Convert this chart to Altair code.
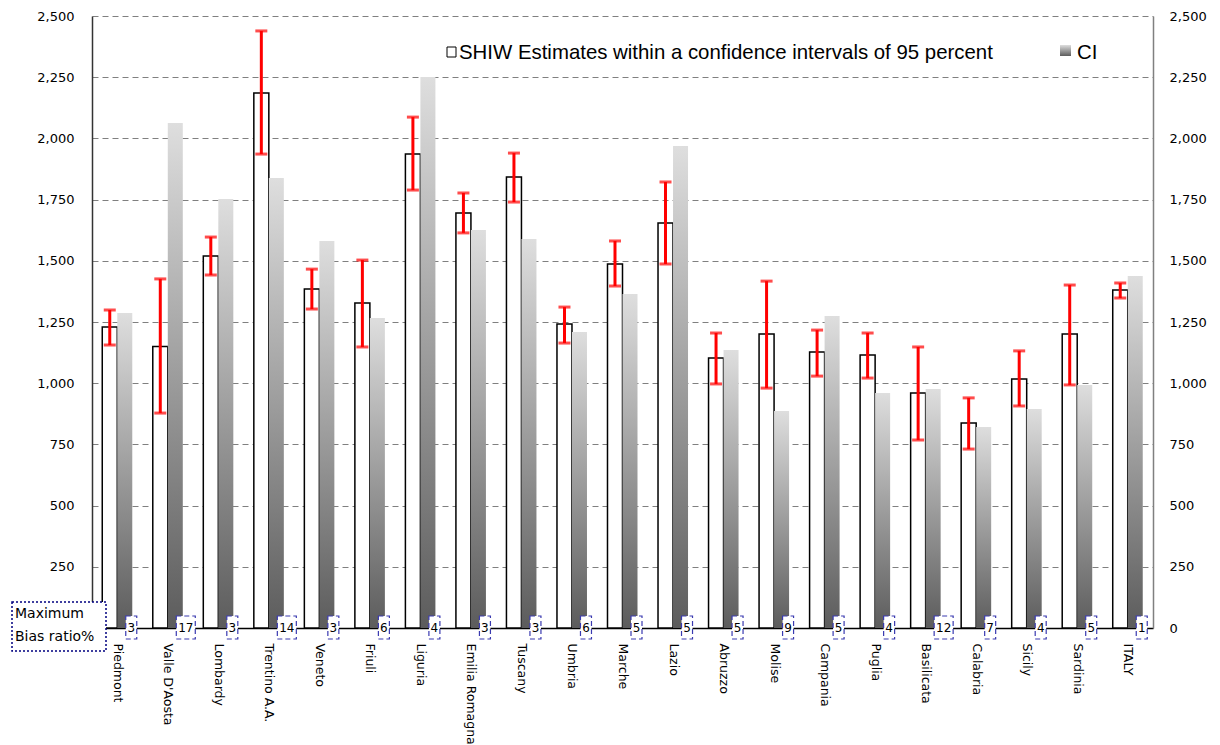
import altair as alt
import pandas as pd

regions = ["Piedmont", "Valle D'Aosta", "Lombardy", "Trentino A.A.", "Veneto", "Friuli",
           "Liguria", "Emilia Romagna", "Tuscany", "Umbria", "Marche", "Lazio", "Abruzzo",
           "Molise", "Campania", "Puglia", "Basilicata", "Calabria", "Sicily", "Sardinia", "ITALY"]
estimate = [1230, 1150, 1520, 2185, 1385, 1328, 1936, 1695, 1842, 1242, 1487, 1654, 1103,
            1201, 1127, 1115, 960, 837, 1017, 1201, 1381]
ci_value = [1287, 2063, 1752, 1838, 1581, 1266, 2251, 1626, 1589, 1209, 1364, 1969, 1136,
            886, 1274, 960, 976, 821, 895, 993, 1438]
err_high = [1299, 1426, 1597, 2439, 1466, 1503, 2087, 1777, 1940, 1311, 1581, 1822, 1205,
            1417, 1217, 1205, 1148, 940, 1132, 1401, 1409]
err_low = [1156, 878, 1442, 1936, 1303, 1148, 1789, 1614, 1740, 1164, 1397, 1487, 997,
           980, 1029, 1021, 768, 731, 907, 993, 1348]
bias = [3, 17, 3, 14, 3, 6, 4, 3, 3, 6, 5, 5, 5, 9, 5, 4, 12, 7, 4, 5, 1]
y_ticks = [0, 250, 500, 750, 1000, 1250, 1500, 1750, 2000, 2250, 2500]

FONT = "DejaVu Sans"
LEG_FONT = "Liberation Sans"

est_df = pd.DataFrame({"region": regions, "value": estimate, "series": "Estimate",
                       "hi": err_high, "lo": err_low, "bias": bias})
ci_df = pd.DataFrame({"region": regions, "value": ci_value, "series": "CI"})

xscale = alt.Scale(domain=regions, paddingInner=0.406, paddingOuter=0.203)
offscale = alt.Scale(domain=["Estimate", "CI"], paddingInner=0, paddingOuter=0)
yscale = alt.Scale(domain=[0, 2500], nice=False, zero=True)

x_axis = alt.Axis(title=None, labelAngle=90, labelAlign="left", labelBaseline="middle",
                  labelPadding=10, labelFont=FONT, labelFontSize=12.5, labelColor="black",
                  tickBand="extent", tickSize=5, tickColor="#808080", domainColor="black",
                  domainWidth=1.5, grid=False)
left_axis = alt.Axis(title=None, orient="left", values=y_ticks, format=",d", labelFont=FONT,
                     labelFontSize=13, labelColor="black", labelPadding=18, ticks=False,
                     labelExpr="datum.value == 0 ? '' : datum.label",
                     domainColor="#333333", domainWidth=1.5, grid=True, gridColor="#808080",
                     gridDash=[6, 4], gridWidth=1)
right_axis = alt.Axis(title=None, orient="right", values=y_ticks, format=",d", labelFont=FONT,
                      labelFontSize=13, labelColor="black", labelPadding=16, ticks=False,
                      domainColor="#808080", domainWidth=1.5, grid=False)

X = alt.X("region:N", sort=regions, scale=xscale, axis=x_axis)
XO = alt.XOffset("series:N", scale=offscale)

gradient = alt.Gradient(gradient="linear",
                        stops=[alt.GradientStop(color="#dedede", offset=0),
                               alt.GradientStop(color="#5c5c5c", offset=1)],
                        x1=0, x2=0, y1=0, y2=1)

est_bars = alt.Chart(est_df).mark_bar(fill="white", stroke="black", strokeWidth=1.5).encode(
    x=X, xOffset=XO, y=alt.Y("value:Q", scale=yscale, axis=left_axis))

ci_bars = alt.Chart(ci_df).mark_bar(color=gradient).encode(
    x=X, xOffset=XO, y=alt.Y("value:Q", scale=yscale, axis=right_axis))

err_rule = alt.Chart(est_df).mark_rule(color="#ff0000", strokeWidth=3).encode(
    x=X, xOffset=XO, y=alt.Y("lo:Q", scale=yscale, axis=None), y2="hi:Q")
cap_hi = alt.Chart(est_df).mark_tick(color="#ff0000", thickness=3, size=12).encode(
    x=X, xOffset=XO, y=alt.Y("hi:Q", scale=yscale, axis=None))
cap_lo = alt.Chart(est_df).mark_tick(color="#ff0000", thickness=3, size=12).encode(
    x=X, xOffset=XO, y=alt.Y("lo:Q", scale=yscale, axis=None))

one = alt.Chart(est_df).transform_filter("datum.bias < 10")
two = alt.Chart(est_df).transform_filter("datum.bias >= 10")
box_style = dict(fill="white", stroke="#3a3ab0", strokeWidth=1.2, strokeDash=[5, 3])
box1 = one.mark_bar(width=11, xOffset=14, **box_style).encode(
    x=X, y=alt.value(600), y2=alt.value(623))
txt1 = one.mark_text(dx=14, font=FONT, fontSize=12, color="black").encode(
    x=X, y=alt.value(612), text="bias:Q")
box2 = two.mark_bar(width=19, xOffset=18, **box_style).encode(
    x=X, y=alt.value(600), y2=alt.value(623))
txt2 = two.mark_text(dx=18, font=FONT, fontSize=12, color="black").encode(
    x=X, y=alt.value(612), text="bias:Q")

one_row = pd.DataFrame({"t": ["SHIW Estimates within a confidence intervals of 95 percent"]})
leg_text = alt.Chart(one_row).mark_text(align="left", baseline="middle", font=LEG_FONT,
                                        fontSize=20.4, color="black").encode(
    x=alt.value(367), y=alt.value(37), text="t:N")
leg_icon = alt.Chart(one_row).mark_rect(fill="white", stroke="black", strokeWidth=1).encode(
    x=alt.value(355), x2=alt.value(364), y=alt.value(31), y2=alt.value(41))
ci_row = pd.DataFrame({"t": ["CI"]})
ci_text = alt.Chart(ci_row).mark_text(align="left", baseline="middle", font=LEG_FONT,
                                      fontSize=20.4, color="black").encode(
    x=alt.value(985), y=alt.value(37), text="t:N")
ci_icon = alt.Chart(ci_row).mark_rect(color=gradient).encode(
    x=alt.value(968), x2=alt.value(979), y=alt.value(29), y2=alt.value(40))

mb_row = pd.DataFrame({"t": ["Maximum"]})
mb_box = alt.Chart(mb_row).mark_rect(fill="white", stroke="#000080", strokeWidth=1.5,
                                     strokeDash=[2, 2]).encode(
    x=alt.value(-80), x2=alt.value(14), y=alt.value(586), y2=alt.value(635))
mb_t1 = alt.Chart(mb_row).mark_text(align="left", baseline="middle", font=FONT, fontSize=14,
                                    color="black").encode(
    x=alt.value(-77), y=alt.value(598), text="t:N")
mb_row2 = pd.DataFrame({"t": ["Bias ratio%"]})
mb_t2 = alt.Chart(mb_row2).mark_text(align="left", baseline="middle", font=FONT, fontSize=14,
                                     color="black").encode(
    x=alt.value(-77), y=alt.value(621), text="t:N")

chart = alt.layer(
    est_bars, ci_bars, err_rule, cap_hi, cap_lo, box1, txt1, box2, txt2,
    leg_icon, leg_text, ci_icon, ci_text, mb_box, mb_t1, mb_t2
).resolve_scale(y="shared").resolve_axis(y="independent").properties(
    width=1061, height=612,
    autosize=alt.AutoSizeParams(type="none"),
    padding={"left": 92, "top": 16, "right": 67, "bottom": 117},
    background="white"
).configure_view(stroke=None)

chart.save("out.html", embed_options={"renderer": "svg", "actions": False})
